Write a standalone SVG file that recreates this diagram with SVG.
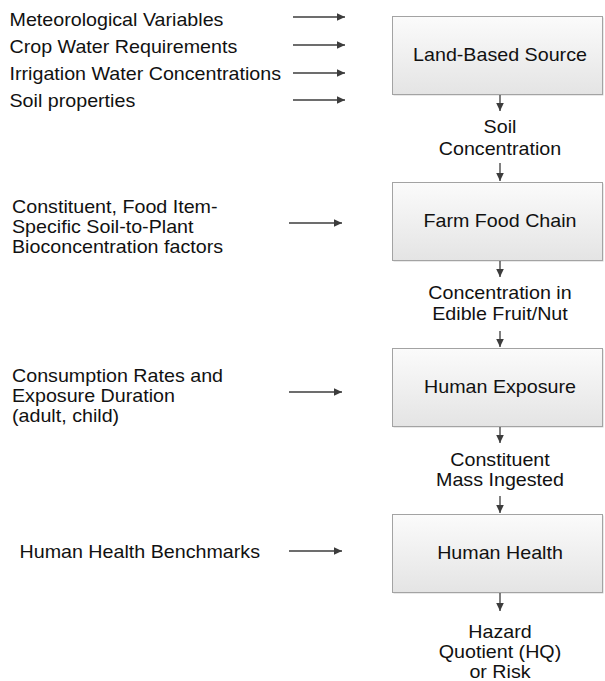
<svg xmlns="http://www.w3.org/2000/svg" width="605" height="681" viewBox="0 0 605 681">
<style>
  text { font-family: "Liberation Sans", Arial, sans-serif; font-size: 17.5px; fill: #111; }
  .c { text-anchor: middle; }
  .box { fill: url(#g); stroke: #a3a3a3; stroke-width: 1; }
  .shadow { fill: #d4d4d4; }
  .arr { stroke: #3c3c3c; stroke-width: 1.3; fill: none; marker-end: url(#ah); }
</style>
<defs>
  <linearGradient id="g" x1="0" y1="0" x2="0" y2="1">
    <stop offset="0" stop-color="#fbfbfb"/>
    <stop offset="1" stop-color="#e4e4e4"/>
  </linearGradient>
  <marker id="ah" markerUnits="userSpaceOnUse" markerWidth="10" markerHeight="10" viewBox="0 0 10 10" refX="9" refY="5" orient="auto">
    <path d="M1,1.2 L9,5 L1,8.8 Z" fill="#3c3c3c"/>
  </marker>
</defs>
<rect width="605" height="681" fill="#ffffff"/>

<g id="inputs">
  <text transform="matrix(1.125 0 0 1 9.5 26)">Meteorological Variables</text>
  <text transform="matrix(1.125 0 0 1 9.5 53)">Crop Water Requirements</text>
  <text transform="matrix(1.125 0 0 1 9.5 80)">Irrigation Water Concentrations</text>
  <text transform="matrix(1.125 0 0 1 9.5 107)">Soil properties</text>
  <text transform="matrix(1.125 0 0 1 12 213)">Constituent, Food Item-</text>
  <text transform="matrix(1.125 0 0 1 12 233)">Specific Soil-to-Plant</text>
  <text transform="matrix(1.125 0 0 1 12 253)">Bioconcentration factors</text>
  <text transform="matrix(1.125 0 0 1 12 382)">Consumption Rates and</text>
  <text transform="matrix(1.125 0 0 1 12 402)">Exposure Duration</text>
  <text transform="matrix(1.125 0 0 1 12 422)">(adult, child)</text>
  <text transform="matrix(1.125 0 0 1 19.5 558)">Human Health Benchmarks</text>
</g>

<g id="node-land-based-source">
  <rect class="shadow" x="393.5" y="17.5" width="210" height="78"/>
  <rect class="box" x="392.5" y="16.5" width="210" height="78"/>
  <text class="c" transform="matrix(1.125 0 0 1 500 61)">Land-Based Source</text>
</g>
<g id="node-farm-food-chain">
  <rect class="shadow" x="393.5" y="183.5" width="210" height="78"/>
  <rect class="box" x="392.5" y="182.5" width="210" height="78"/>
  <text class="c" transform="matrix(1.125 0 0 1 500 227)">Farm Food Chain</text>
</g>
<g id="node-human-exposure">
  <rect class="shadow" x="393.5" y="349.5" width="210" height="78"/>
  <rect class="box" x="392.5" y="348.5" width="210" height="78"/>
  <text class="c" transform="matrix(1.125 0 0 1 500 393)">Human Exposure</text>
</g>
<g id="node-human-health">
  <rect class="shadow" x="393.5" y="515.5" width="210" height="78"/>
  <rect class="box" x="392.5" y="514.5" width="210" height="78"/>
  <text class="c" transform="matrix(1.125 0 0 1 500 559)">Human Health</text>
</g>

<g id="labels">
  <text class="c" transform="matrix(1.125 0 0 1 500 133)">Soil</text>
  <text class="c" transform="matrix(1.125 0 0 1 500 155)">Concentration</text>
  <text class="c" transform="matrix(1.125 0 0 1 500 299)">Concentration in</text>
  <text class="c" transform="matrix(1.125 0 0 1 500 320)">Edible Fruit/Nut</text>
  <text class="c" transform="matrix(1.125 0 0 1 500 466)">Constituent</text>
  <text class="c" transform="matrix(1.125 0 0 1 500 486)">Mass Ingested</text>
  <text class="c" transform="matrix(1.125 0 0 1 500 638)">Hazard</text>
  <text class="c" transform="matrix(1.125 0 0 1 500 658)">Quotient (HQ)</text>
  <text class="c" transform="matrix(1.125 0 0 1 500 678)">or Risk</text>
</g>

<g id="connectors">
  <line class="arr" x1="293" y1="17" x2="345" y2="17"/>
  <line class="arr" x1="293" y1="45" x2="345" y2="45"/>
  <line class="arr" x1="293" y1="73" x2="345" y2="73"/>
  <line class="arr" x1="293" y1="100" x2="345" y2="100"/>
  <line class="arr" x1="289" y1="223" x2="342" y2="223"/>
  <line class="arr" x1="289" y1="392" x2="342" y2="392"/>
  <line class="arr" x1="289" y1="551" x2="342" y2="551"/>
  <line class="arr" x1="500" y1="95" x2="500" y2="111"/>
  <line class="arr" x1="500" y1="163" x2="500" y2="181"/>
  <line class="arr" x1="500" y1="261" x2="500" y2="277"/>
  <line class="arr" x1="500" y1="331" x2="500" y2="347"/>
  <line class="arr" x1="500" y1="427" x2="500" y2="443"/>
  <line class="arr" x1="500" y1="496" x2="500" y2="513"/>
  <line class="arr" x1="500" y1="593" x2="500" y2="611"/>
</g>
</svg>
